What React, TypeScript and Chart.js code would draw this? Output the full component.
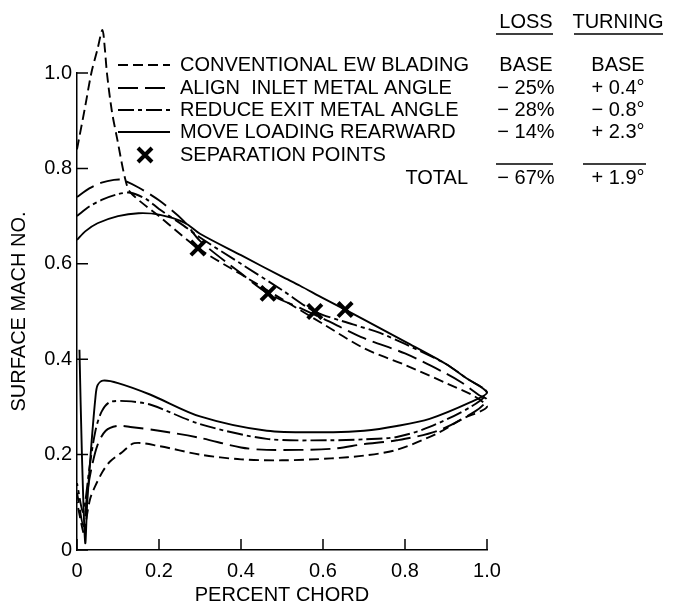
import React, { useEffect, useRef } from "react";
import { Chart, registerables } from "chart.js";

Chart.register(...registerables);

// ---------- data ----------
const seriesNames = [
  "CONVENTIONAL EW BLADING",
  "ALIGN  INLET METAL ANGLE",
  "REDUCE EXIT METAL ANGLE",
  "MOVE LOADING REARWARD",
];
const lossValues = ["BASE", "\u2212 25%", "\u2212 28%", "\u2212 14%"];
const turningValues = ["BASE", "+ 0.4\u00b0", "\u2212 0.8\u00b0", "+ 2.3\u00b0"];
const totalLoss = "\u2212 67%";
const totalTurning = "+ 1.9\u00b0";

const xTicks = [0, 0.2, 0.4, 0.6, 0.8, 1.0];
const yTicks = [0, 0.2, 0.4, 0.6, 0.8, 1.0];

// Each loop: suction surface LE -> TE, then pressure surface TE -> LE
const conventionalX = [0.0, 0.02, 0.035, 0.05, 0.062, 0.068, 0.073, 0.085, 0.098, 0.117, 0.13, 0.2, 0.295, 0.4, 0.5, 0.6, 0.7, 0.8, 0.9, 0.97, 1.0,
  0.94, 0.88, 0.78, 0.7, 0.62, 0.5, 0.4, 0.3, 0.2, 0.14, 0.11, 0.08, 0.063, 0.045, 0.032, 0.022, 0.018, 0.0];
const conventionalY = [0.84, 0.93, 1.0, 1.05, 1.09, 1.05, 1.0, 0.92, 0.862, 0.78, 0.75, 0.70, 0.633, 0.578, 0.526, 0.474, 0.423, 0.388, 0.35, 0.322, 0.30,
  0.275, 0.245, 0.21, 0.198, 0.192, 0.188, 0.19, 0.2, 0.218, 0.224, 0.205, 0.185, 0.165, 0.135, 0.107, 0.06, 0.03, 0.1];

const alignX = [0.0, 0.03, 0.06, 0.09, 0.11, 0.15, 0.2, 0.26, 0.3, 0.4, 0.466, 0.55, 0.6, 0.7, 0.8, 0.9, 0.94, 0.98, 1.0,
  0.97, 0.88, 0.78, 0.7, 0.62, 0.463, 0.4, 0.3, 0.2, 0.13, 0.097, 0.07, 0.05, 0.035, 0.025, 0.016, 0.0];
const alignY = [0.74, 0.758, 0.77, 0.776, 0.776, 0.76, 0.733, 0.69, 0.648, 0.58, 0.538, 0.505, 0.485, 0.444, 0.412, 0.37, 0.35, 0.325, 0.315,
  0.29, 0.25, 0.23, 0.222, 0.212, 0.21, 0.215, 0.235, 0.25, 0.258, 0.26, 0.25, 0.22, 0.17, 0.12, 0.05, 0.12];

const reduceX = [0.0, 0.03, 0.063, 0.1, 0.13, 0.17, 0.2, 0.26, 0.3, 0.4, 0.5, 0.58, 0.673, 0.739, 0.8, 0.854, 0.9, 0.95, 1.0,
  0.96, 0.86, 0.78, 0.7, 0.62, 0.463, 0.3, 0.178, 0.12, 0.08, 0.06, 0.045, 0.03, 0.02, 0.014, 0.0];
const reduceY = [0.70, 0.72, 0.735, 0.746, 0.749, 0.735, 0.715, 0.68, 0.655, 0.60, 0.545, 0.50, 0.473, 0.455, 0.432, 0.41, 0.39, 0.36, 0.33,
  0.30, 0.258, 0.237, 0.232, 0.23, 0.233, 0.264, 0.305, 0.312, 0.31, 0.29, 0.25, 0.17, 0.1, 0.08, 0.14];

const rearwardX = [0.0, 0.02, 0.05, 0.1, 0.15, 0.2, 0.263, 0.3, 0.4, 0.5, 0.544, 0.6, 0.654, 0.7, 0.8, 0.9, 0.95, 1.0,
  0.96, 0.86, 0.78, 0.7, 0.625, 0.463, 0.3, 0.178, 0.1, 0.063, 0.05, 0.045, 0.035, 0.025, 0.02, 0.012, 0.006];
const rearwardY = [0.65, 0.668, 0.685, 0.70, 0.706, 0.703, 0.686, 0.663, 0.618, 0.573, 0.554, 0.528, 0.504, 0.483, 0.437, 0.39, 0.36, 0.33,
  0.31, 0.275, 0.26, 0.25, 0.247, 0.25, 0.28, 0.326, 0.35, 0.355, 0.345, 0.32, 0.22, 0.1, 0.015, 0.2, 0.42];

const separationX = [0.295, 0.466, 0.58, 0.654];
const separationY = [0.633, 0.538, 0.50, 0.504];

const dashStyles: number[][] = [[10, 5], [20, 7], [16, 4, 4, 4], []];

const FONT = '"Liberation Sans", Arial, Helvetica, sans-serif';
const FS = 20;

function pts(xs: number[], ys: number[]) {
  return xs.map((x, i) => ({ x, y: ys[i] }));
}

const tickPlugin = {
  id: "inwardTicks",
  afterDraw(chart: any) {
    const { ctx, chartArea, scales } = chart;
    ctx.save();
    ctx.strokeStyle = "#000";
    ctx.lineWidth = 1.5;
    ctx.beginPath();
    yTicks.forEach((v) => {
      const y = scales.y.getPixelForValue(v);
      ctx.moveTo(chartArea.left, y);
      ctx.lineTo(chartArea.left + 11, y);
    });
    xTicks.forEach((v) => {
      const x = scales.x.getPixelForValue(v);
      ctx.moveTo(x, chartArea.bottom);
      ctx.lineTo(x, chartArea.bottom - 11);
    });
    ctx.stroke();
    ctx.restore();
  },
};

const tablePlugin = {
  id: "tableLegend",
  afterDraw(chart: any) {
    const ctx = chart.ctx;
    ctx.save();
    ctx.fillStyle = "#000";
    ctx.strokeStyle = "#000";
    ctx.font = `${FS}px ${FONT}`;
    ctx.textBaseline = "middle";
    const rows = [65, 88, 110, 132];
    const lossC = 526;
    const turnC = 618;
    // headers
    ctx.textAlign = "center";
    ctx.fillText("LOSS", lossC, 22);
    ctx.fillText("TURNING", turnC, 22);
    ctx.lineWidth = 1.5;
    ctx.beginPath();
    ctx.moveTo(496, 34); ctx.lineTo(553, 34);
    ctx.moveTo(574, 34); ctx.lineTo(663, 34);
    ctx.moveTo(496, 164); ctx.lineTo(553, 164);
    ctx.moveTo(583, 164); ctx.lineTo(646, 164);
    ctx.stroke();
    rows.forEach((y, i) => {
      ctx.lineWidth = 1.8;
      ctx.setLineDash(dashStyles[i]);
      ctx.beginPath();
      ctx.moveTo(118, y);
      ctx.lineTo(170, y);
      ctx.stroke();
      ctx.setLineDash([]);
      ctx.textAlign = "left";
      ctx.fillText(seriesNames[i], 180, y);
      ctx.textAlign = "center";
      ctx.fillText(lossValues[i], lossC, y);
      ctx.fillText(turningValues[i], turnC, y);
    });
    // separation marker
    ctx.lineWidth = 4;
    ctx.beginPath();
    ctx.moveTo(138, 148); ctx.lineTo(152, 162);
    ctx.moveTo(152, 148); ctx.lineTo(138, 162);
    ctx.stroke();
    ctx.textAlign = "left";
    ctx.fillText("SEPARATION POINTS", 180, 155);
    ctx.textAlign = "right";
    ctx.fillText("TOTAL", 468, 178);
    ctx.textAlign = "center";
    ctx.fillText(totalLoss, lossC, 178);
    ctx.fillText(totalTurning, turnC, 178);
    ctx.restore();
  },
};

export default function App() {
  const ref = useRef<HTMLCanvasElement>(null);
  useEffect(() => {
    if (!ref.current) return;
    const loops = [
      pts(conventionalX, conventionalY),
      pts(alignX, alignY),
      pts(reduceX, reduceY),
      pts(rearwardX, rearwardY),
    ];
    const datasets: any[] = loops.map((data, i) => ({
      label: seriesNames[i],
      data,
      showLine: true,
      borderColor: "#000",
      borderWidth: 1.9,
      borderDash: dashStyles[i],
      pointRadius: 0,
      tension: 0.3,
      fill: false,
      clip: false,
    }));
    datasets.push({
      label: "SEPARATION POINTS",
      data: pts(separationX, separationY),
      showLine: false,
      pointStyle: "crossRot",
      pointRadius: 10,
      borderColor: "#000",
      borderWidth: 4,
      clip: false,
    });
    const chart = new Chart(ref.current, {
      type: "scatter",
      data: { datasets },
      plugins: [tickPlugin, tablePlugin],
      options: {
        animation: false,
        responsive: false,
        devicePixelRatio: 1,
        layout: { padding: { left: 0, right: 187, top: 73, bottom: 0 } },
        plugins: { legend: { display: false }, tooltip: { enabled: false } },
        scales: {
          x: {
            type: "linear",
            min: 0,
            max: 1.0,
            afterFit: (s: any) => { s.height = 57; },
            afterBuildTicks: (s: any) => { s.ticks = xTicks.map((v) => ({ value: v })); },
            grid: { display: false, drawTicks: false },
            border: { display: true, color: "#000", width: 1.5 },
            ticks: {
              padding: 9,
              color: "#000",
              font: { family: FONT, size: FS },
              callback: (v: any) => (v === 0 ? "0" : Number(v).toFixed(1)),
            },
            title: {
              display: true,
              text: "PERCENT CHORD",
              color: "#000",
              font: { family: FONT, size: FS },
              padding: { top: 0, bottom: 0 },
            },
          },
          y: {
            type: "linear",
            min: 0,
            max: 1.0,
            afterFit: (s: any) => { s.width = 77; },
            afterBuildTicks: (s: any) => { s.ticks = yTicks.map((v) => ({ value: v })); },
            grid: { display: false, drawTicks: false },
            border: { display: true, color: "#000", width: 1.5 },
            ticks: {
              padding: 5,
              color: "#000",
              font: { family: FONT, size: FS },
              callback: (v: any) => (v === 0 ? "0" : Number(v).toFixed(1)),
            },
            title: {
              display: true,
              text: "SURFACE MACH NO.",
              color: "#000",
              font: { family: FONT, size: FS },
              padding: { top: 7, bottom: 0 },
            },
          },
        },
      },
    });
    return () => chart.destroy();
  }, []);
  return (
    <div style={{ position: "absolute", left: 0, top: 0, width: 674, height: 607, background: "#fff" }}>
      <canvas ref={ref} width={674} height={607} style={{ width: 674, height: 607 }} />
    </div>
  );
}
